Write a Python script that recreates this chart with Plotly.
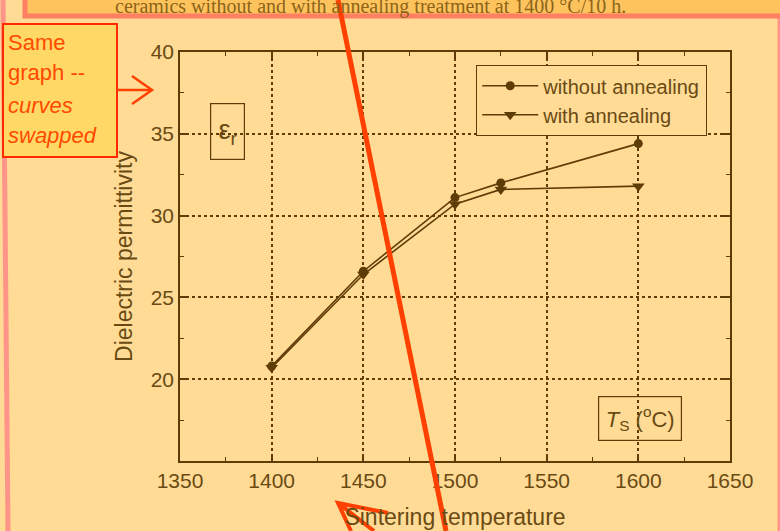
import plotly.graph_objects as go

temps = [1400, 1450, 1500, 1525, 1600]
eps_without = [20.8, 26.6, 31.1, 32.0, 34.4]
eps_with = [20.7, 26.4, 30.7, 31.6, 31.8]
series_names = ["without annealing", "with annealing"]
x_ticks = [1350, 1400, 1450, 1500, 1550, 1600, 1650]
y_ticks = [20, 25, 30, 35, 40]

W, H = 780, 531
L, R, T, B = 180, 50, 52, 70
PW, PH = W - L - R, H - T - B

def px(x):
    return (x - L) / PW

def py(y):
    return (H - B - y) / PH

BG = "#FFDB96"
BROWN = "#5E3C05"
TXT = "#6A4A12"
RED = "#FF4000"
FONT = "Liberation Sans, Arial, sans-serif"

fig = go.Figure()
fig.add_trace(go.Scatter(x=temps, y=eps_without, name=series_names[0], mode="lines+markers",
                         line=dict(color=BROWN, width=1.6),
                         marker=dict(symbol="circle", size=9, color=BROWN)))
fig.add_trace(go.Scatter(x=temps, y=eps_with, name=series_names[1], mode="lines+markers",
                         line=dict(color=BROWN, width=1.6),
                         marker=dict(symbol="triangle-down", size=11, color=BROWN)))

axis_common = dict(showline=True, linecolor=BROWN, linewidth=1.5, mirror="ticks",
                   ticks="inside", ticklen=7, tickwidth=1.5, tickcolor=BROWN,
                   showgrid=True, gridcolor=BROWN, griddash="dot", gridwidth=1.5,
                   zeroline=False, automargin=False,
                   tickfont=dict(family=FONT, size=21, color=TXT),
                   minor=dict(ticks="inside", ticklen=4, tickwidth=1.2, tickcolor=BROWN, showgrid=False))

fig.update_xaxes(range=[1350, 1650], tickvals=x_ticks, minor_dtick=25,
                 title=dict(text="Sintering temperature", font=dict(family=FONT, size=23, color=TXT), standoff=18),
                 **axis_common)
fig.update_yaxes(range=[15, 40], tickvals=y_ticks, minor_dtick=2.5,
                 title=dict(text="Dielectric permittivity", font=dict(family=FONT, size=23, color=TXT), standoff=12),
                 **axis_common)

shapes = []
annotations = []

# left pink stripe & right pink stripe
shapes.append(dict(type="line", xref="paper", yref="paper", x0=px(3), y0=py(0), x1=px(8), y1=py(531),
                   line=dict(color="rgba(255,120,130,0.7)", width=5), layer="above"))
shapes.append(dict(type="line", xref="paper", yref="paper", x0=px(779), y0=py(0), x1=px(779), y1=py(531),
                   line=dict(color="rgba(255,120,130,0.7)", width=3), layer="above"))
# top banner
shapes.append(dict(type="rect", xref="paper", yref="paper", x0=px(25), y0=py(-10), x1=px(795), y1=py(16),
                   fillcolor="#FFC35E", line=dict(color="#FF7F62", width=5), layer="above"))
annotations.append(dict(xref="paper", yref="paper", x=px(370), y=py(6), showarrow=False,
                        text="ceramics without and with annealing treatment at 1400 °C/10 h.",
                        font=dict(family="Liberation Serif, Times New Roman, serif", size=20, color="#8C6418"),
                        xanchor="center", yanchor="middle"))
# callout box
shapes.append(dict(type="rect", xref="paper", yref="paper", x0=px(3), y0=py(24), x1=px(117), y1=py(157),
                   fillcolor="#FFD865", line=dict(color="#FF2A00", width=2), layer="above"))
for txt, yy in [("Same", 42), ("graph --", 73), ("<i>curves</i>", 105), ("<i>swapped</i>", 136)]:
    annotations.append(dict(xref="paper", yref="paper", x=px(6), y=py(yy), showarrow=False, text=txt,
                            font=dict(family=FONT, size=22, color="#FF4A00"), xanchor="left", yanchor="middle"))
# callout arrow
shapes.append(dict(type="line", xref="paper", yref="paper", x0=px(117), y0=py(90), x1=px(152), y1=py(90),
                   line=dict(color=RED, width=2.5), layer="above"))
shapes.append(dict(type="path", xref="paper", yref="paper",
                   path=f"M {px(132)},{py(76)} L {px(152)},{py(90)} L {px(132)},{py(104)}",
                   line=dict(color=RED, width=2.5), layer="above"))
# big slanted line
shapes.append(dict(type="line", xref="paper", yref="paper", x0=px(338), y0=py(0), x1=px(446), y1=py(531),
                   line=dict(color=RED, width=5), layer="above"))
# bottom arrow
shapes.append(dict(type="path", xref="paper", yref="paper",
                   path=f"M {px(388)},{py(513)} L {px(338)},{py(503)} L {px(351)},{py(531)} M {px(338)},{py(503)} L {px(374)},{py(531)}",
                   line=dict(color=RED, width=4), layer="above"))

# boxed labels
annotations.append(dict(xref="paper", yref="paper", x=px(227.5), y=py(131.5), showarrow=False,
                        xanchor="center", yanchor="middle",
                        text="ε<sub>r</sub>", width=31, height=53, bordercolor=BROWN, borderwidth=1.2, borderpad=1,
                        font=dict(family=FONT, size=27, color=TXT)))
annotations.append(dict(xref="paper", yref="paper", x=px(640), y=py(418.5), showarrow=False,
                        xanchor="center", yanchor="middle",
                        text="<i>T</i><sub>S</sub> (<sup>o</sup>C)", width=80, height=41, bordercolor=BROWN,
                        borderwidth=1.2, borderpad=1, font=dict(family=FONT, size=22, color=TXT)))

fig.update_layout(
    width=W, height=H, margin=dict(l=L, r=R, t=T, b=B),
    paper_bgcolor=BG, plot_bgcolor=BG,
    shapes=shapes, annotations=annotations,
    showlegend=True,
    legend=dict(x=px(476), y=py(65), xanchor="left", yanchor="top", bgcolor=BG,
                bordercolor=BROWN, borderwidth=1.2, font=dict(family=FONT, size=20, color=TXT),
                itemwidth=56, tracegroupgap=0),
)

fig.write_html("out.html", config={"displayModeBar": False},
               post_script="document.body.style.margin='0';document.body.style.background='" + BG + "';")
